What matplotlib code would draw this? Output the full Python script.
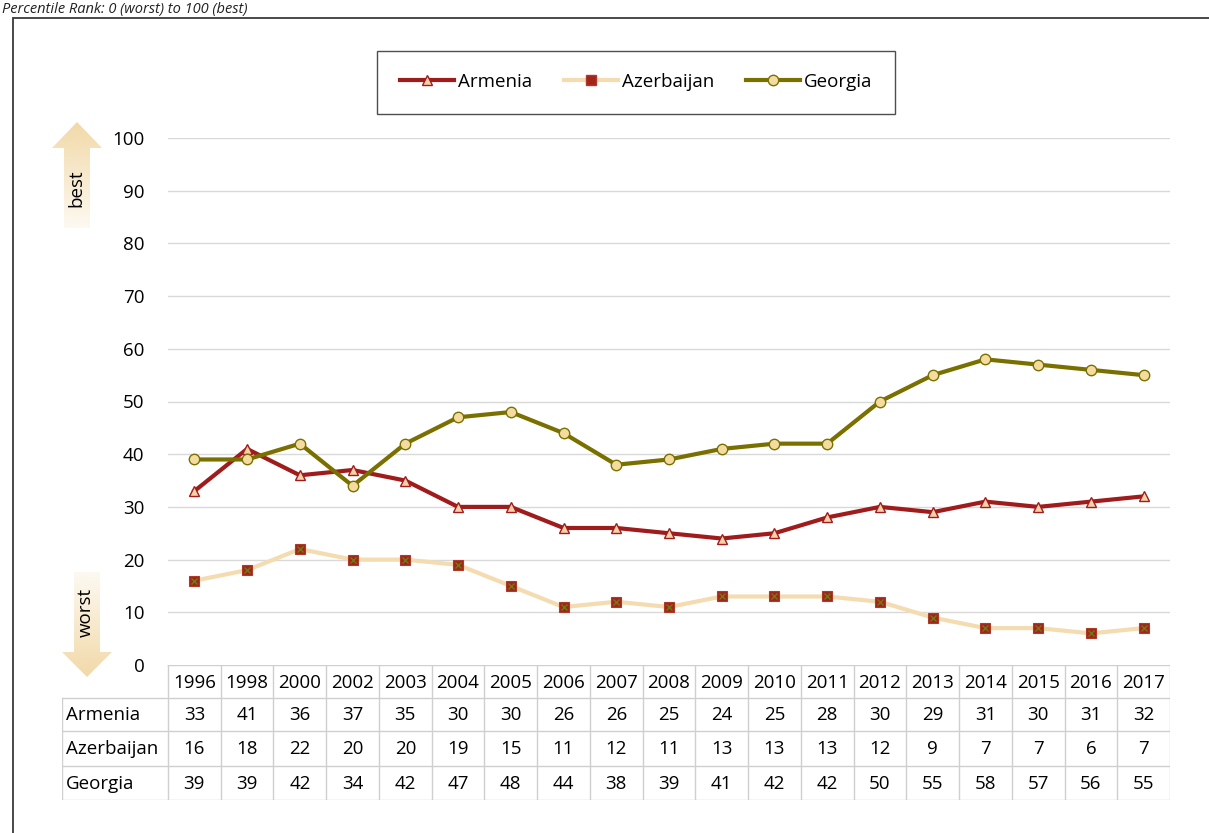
import matplotlib
matplotlib.use("Agg")
import matplotlib.pyplot as plt
import numpy as np
from matplotlib.patches import Rectangle, Polygon
from matplotlib.lines import Line2D

years = ["1996", "1998", "2000", "2002", "2003", "2004", "2005", "2006", "2007", "2008",
         "2009", "2010", "2011", "2012", "2013", "2014", "2015", "2016", "2017"]
armenia = [33, 41, 36, 37, 35, 30, 30, 26, 26, 25, 24, 25, 28, 30, 29, 31, 30, 31, 32]
azerbaijan = [16, 18, 22, 20, 20, 19, 15, 11, 12, 11, 13, 13, 13, 12, 9, 7, 7, 6, 7]
georgia = [39, 39, 42, 34, 42, 47, 48, 44, 38, 39, 41, 42, 42, 50, 55, 58, 57, 56, 55]
series_names = ["Armenia", "Azerbaijan", "Georgia"]
yticks = [0, 10, 20, 30, 40, 50, 60, 70, 80, 90, 100]

plt.rcParams['font.family'] = ['Open Sans', 'DejaVu Sans']
FS = 13.5

W, H = 1209, 833
fig = plt.figure(figsize=(W / 100, H / 100), dpi=100)

def fx(px):
    return px / W

def fy(py):
    return 1 - py / H

# outer frame
fig.patches.append(Rectangle((fx(13), fy(845)), fx(1215) - fx(13), fy(18) - fy(845),
                             transform=fig.transFigure, fill=False, edgecolor="#3a3a3a",
                             linewidth=1.3))
fig.text(fx(2), fy(13), "Percentile Rank: 0 (worst) to 100 (best)", style="italic",
         fontsize=10.5, ha="left", va="baseline", color="#222222")

x0, x1 = 168, 1170
ytop, ybot = 138, 665
ax = fig.add_axes([fx(x0), fy(ybot), fx(x1) - fx(x0), fy(ytop) - fy(ybot)])
n = len(years)
xs = np.arange(n)
ax.set_xlim(-0.5, n - 0.5)
ax.set_ylim(0, 100)
for s in ax.spines.values():
    s.set_visible(False)
ax.set_xticks([])
ax.set_yticks(yticks)
ax.tick_params(axis="y", length=0, pad=17, labelsize=FS)
for y in yticks[1:]:
    ax.axhline(y, color="#d9d9d9", linewidth=1.0, zorder=0)

c_arm = "#a01c1c"
c_aze = "#f4dcb0"
c_geo = "#7a7000"
ax.plot(xs, armenia, color=c_arm, linewidth=3, marker="^", markersize=7,
        markerfacecolor="#f6d2a8", markeredgecolor=c_arm, markeredgewidth=1, label="Armenia", zorder=3)
ax.plot(xs, azerbaijan, color=c_aze, linewidth=3, marker="s", markersize=7,
        markerfacecolor="#a0261a", markeredgecolor="#b0392a", markeredgewidth=0.8,
        label="Azerbaijan", zorder=3)
ax.plot(xs, azerbaijan, linestyle="none", marker="x", markersize=5, color="#6f7a10",
        markeredgewidth=1, zorder=4)
ax.plot(xs, georgia, color=c_geo, linewidth=3, marker="o", markersize=7.5,
        markerfacecolor="#f4dca0", markeredgecolor=c_geo, markeredgewidth=1, label="Georgia", zorder=3)

# legend
h_arm = Line2D([], [], color=c_arm, linewidth=3, marker="^", markersize=7,
               markerfacecolor="#f6d2a8", markeredgecolor=c_arm)
h_aze = Line2D([], [], color=c_aze, linewidth=3, marker="s", markersize=7,
               markerfacecolor="#a0261a", markeredgecolor="#b0392a")
h_geo = Line2D([], [], color=c_geo, linewidth=3, marker="o", markersize=7.5,
               markerfacecolor="#f4dca0", markeredgecolor=c_geo)
leg = fig.legend([h_arm, h_aze, h_geo], series_names, loc="center",
                 bbox_to_anchor=(fx(636), fy(82)), ncol=3, frameon=True, fancybox=False,
                 edgecolor="#222222", fontsize=FS, handlelength=2.9, handletextpad=0.2,
                 columnspacing=1.7, borderpad=1.2)
leg.get_frame().set_linewidth(1.0)

# table
tx0 = 62
tab = fig.add_axes([fx(tx0), fy(800), fx(x1) - fx(tx0), fy(665) - fy(800)])
tab.set_xlim(tx0, x1)
tab.set_ylim(800, 665)
tab.axis("off")
colw = (x1 - x0) / n
rows_y = [665, 698, 731, 766, 800]
gc = "#cfcfcf"
tab.plot([x0, x1], [665, 665], color=gc, lw=1)
tab.plot([tx0, x1], [698, 698], color=gc, lw=1)
for r in rows_y[2:]:
    tab.plot([tx0, x1], [r, r], color=gc, lw=1)
tab.plot([tx0, tx0], [698, 800], color=gc, lw=1)
for i in range(n + 1):
    xv = x0 + i * colw
    tab.plot([xv, xv], [665, 800], color=gc, lw=1)
for i, yr in enumerate(years):
    tab.text(x0 + (i + 0.5) * colw, (665 + 698) / 2 + 1, yr, ha="center", va="center", fontsize=FS)
data_rows = [armenia, azerbaijan, georgia]
for r, (name, vals) in enumerate(zip(series_names, data_rows)):
    yc = (rows_y[r + 1] + rows_y[r + 2]) / 2 + 1
    tab.text(tx0 + 4, yc, name, ha="left", va="center", fontsize=FS)
    for i, v in enumerate(vals):
        tab.text(x0 + (i + 0.5) * colw, yc, str(v), ha="center", va="center", fontsize=FS)

# arrows
arr = fig.add_axes([0, 0, 1, 1])
arr.set_xlim(0, W)
arr.set_ylim(H, 0)
arr.axis("off")
arr.patch.set_alpha(0)
base = np.array([242 / 255, 217 / 255, 168 / 255])

def grad_arrow(poly, ytop_, ybot_, fade_down):
    n_ = 256
    t = np.linspace(0, 1, n_)[:, None]
    alpha = (1 - t) if fade_down else t
    alpha = 0.15 + 0.85 * alpha
    img = np.zeros((n_, 1, 4))
    img[..., :3] = base
    img[..., 3] = alpha
    xsx = [p[0] for p in poly]
    im = arr.imshow(img, extent=(min(xsx), max(xsx), ybot_, ytop_), aspect="auto",
                    interpolation="bilinear", zorder=1)
    pg = Polygon(poly, closed=True, facecolor="none", edgecolor="none", transform=arr.transData)
    arr.add_patch(pg)
    im.set_clip_path(pg)

up = [(52, 148), (77, 122), (102, 148), (90, 148), (90, 228), (64, 228), (64, 148)]
grad_arrow(up, 122, 228, True)
arr.text(76, 188, "best", rotation=90, ha="center", va="center", fontsize=FS)
dn = [(74, 572), (100, 572), (100, 652), (112, 652), (87, 677), (62, 652), (74, 652)]
grad_arrow(dn, 572, 677, False)
arr.text(86, 612, "worst", rotation=90, ha="center", va="center", fontsize=FS)
arr.set_xlim(0, W)
arr.set_ylim(H, 0)

fig.savefig("out.png", dpi=100)
